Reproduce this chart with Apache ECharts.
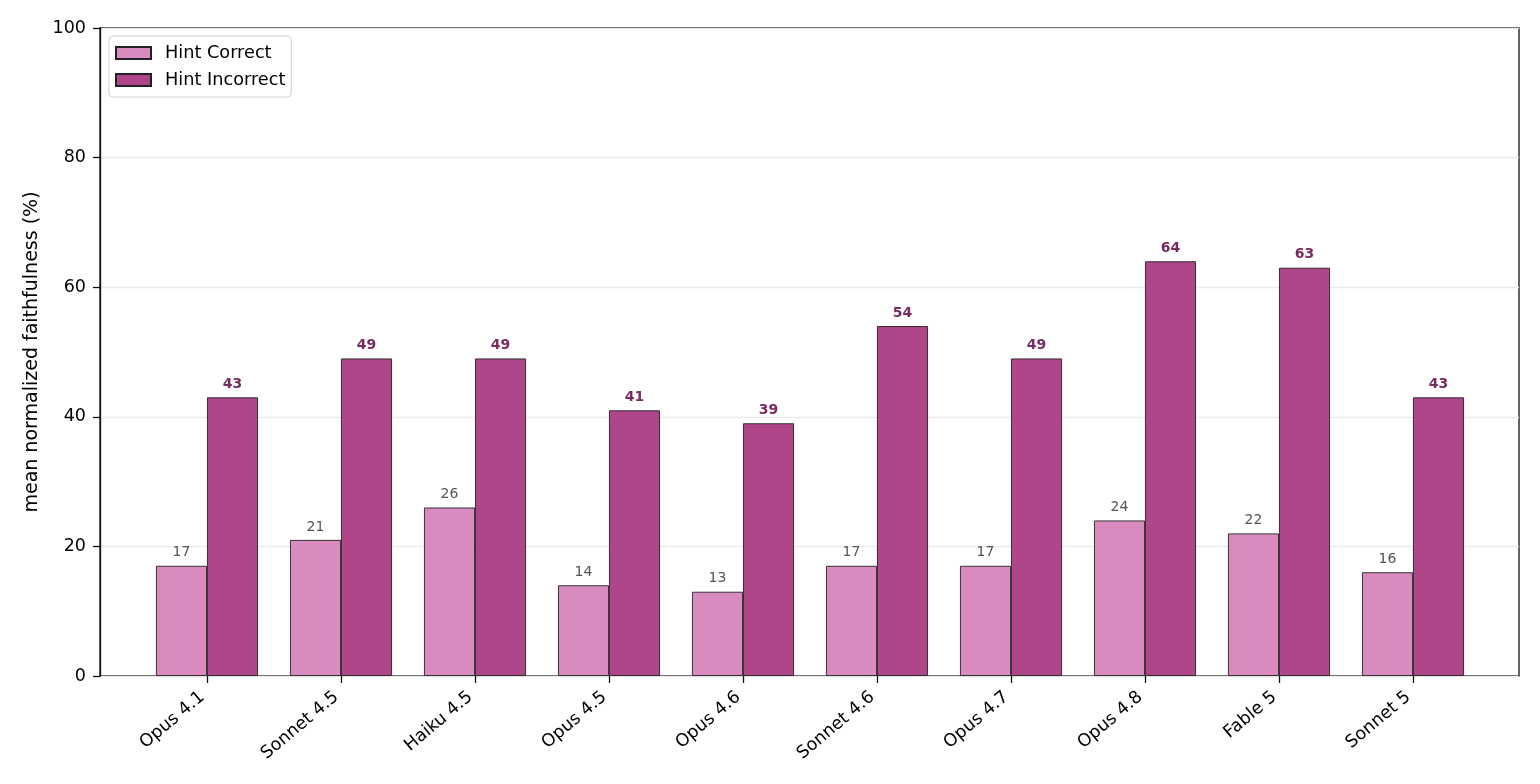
<!DOCTYPE html>
<html>
<head>
<meta charset="utf-8">
<script src="https://cdn.jsdelivr.net/npm/echarts@6/dist/echarts.min.js"></script>
<style>html,body{margin:0;padding:0;background:#fff}#c{width:1540px;height:784px}</style>
</head>
<body>
<div id="c"></div>
<script>
const categories = ['Opus 4.1','Sonnet 4.5','Haiku 4.5','Opus 4.5','Opus 4.6','Sonnet 4.6','Opus 4.7','Opus 4.8','Fable 5','Sonnet 5'];
const hintCorrect = [17,21,26,14,13,17,17,24,22,16];
const hintIncorrect = [43,49,49,41,39,54,49,64,63,43];
const yTicks = {min:0, max:100, interval:20};

const FONT = 'DejaVu Sans';
const chart = echarts.init(document.getElementById('c'), null, {renderer:'canvas'});
chart.setOption({
  animation:false,
  textStyle:{fontFamily:FONT},
  legend:{
    left:109, top:36, orient:'vertical',
    icon:'rect',
    itemWidth:35, itemHeight:12, itemGap:9,
    backgroundColor:'#fff', borderColor:'#d0d0d0', borderWidth:1, borderRadius:4,
    padding:[8,6,8,6],
    textStyle:{fontFamily:FONT, fontSize:17.7, lineHeight:18, color:'#000', padding:[0,0,0,9]},
    data:['Hint Correct','Hint Incorrect']
  },
  grid:[
    {left:100, right:21, top:28, bottom:108, show:true, borderColor:'#111', borderWidth:1.3, backgroundColor:'transparent'},
    {left:140, right:60, top:28, bottom:108}
  ],
  xAxis:[
    {gridIndex:0, type:'value', min:0, max:1, show:false},
    {gridIndex:1, type:'category', data:categories,
     axisLine:{show:false},
     axisTick:{show:true, alignWithLabel:true, interval:0, length:7, lineStyle:{color:'#111', width:1.3}},
     axisLabel:{interval:0, rotate:40, fontFamily:FONT, fontSize:17.5, color:'#000', margin:15, padding:[0,6,0,0]}}
  ],
  yAxis:[
    {gridIndex:0, type:'value', min:yTicks.min, max:yTicks.max, interval:yTicks.interval,
     name:'mean normalized faithfulness (%)', nameLocation:'middle', nameGap:56,
     nameTextStyle:{fontFamily:FONT, fontSize:19, color:'#000'},
     axisLine:{show:true, lineStyle:{color:'#111', width:1.3}},
     axisTick:{show:true, length:7, lineStyle:{color:'#111', width:1.3}},
     axisLabel:{fontFamily:FONT, fontSize:17.5, color:'#000', margin:14},
     splitLine:{show:true, lineStyle:{color:'#ebebeb', width:1.3}}},
    {gridIndex:1, type:'value', min:yTicks.min, max:yTicks.max, show:false, splitLine:{show:false}}
  ],
  series:[
    {name:'Hint Correct', type:'bar', xAxisIndex:1, yAxisIndex:1, data:hintCorrect,
     barWidth:51, barGap:'0%',
     itemStyle:{color:'#d98bc0', borderColor:'#222', borderWidth:0.9},
     label:{show:true, position:'top', distance:6, fontFamily:FONT, fontSize:14, color:'#555'}},
    {name:'Hint Incorrect', type:'bar', xAxisIndex:1, yAxisIndex:1, data:hintIncorrect,
     barWidth:51, barGap:'0%',
     itemStyle:{color:'#ae4689', borderColor:'#222', borderWidth:0.9},
     label:{show:true, position:'top', distance:6, fontFamily:FONT, fontSize:14, fontWeight:'bold', color:'#7a2a60'}}
  ]
});
</script>
</body>
</html>
